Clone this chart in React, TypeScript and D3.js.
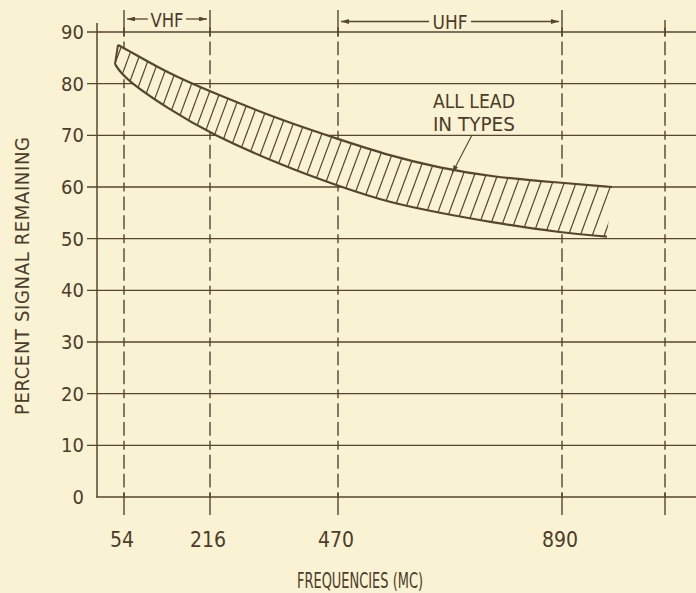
import React from "react";
import * as d3 from "d3";

// ---------- data ----------
const yTicks = [0, 10, 20, 30, 40, 50, 60, 70, 80, 90];
const xTickFreqs = [54, 216, 470, 890];
const gridFreqs = [54, 216, 470, 890, 1085];
const scaleFreqs = [0, 54, 216, 470, 890, 1085];

const upperBand: [number, number][] = [
  [42, 87.5], [54, 86.9], [141, 81.8], [216, 78.5], [355, 73], [470, 69.3],
  [568, 66], [661, 63.7], [755, 62], [890, 60.8], [985, 60],
];
const lowerBand: [number, number][] = [
  [36, 83.8], [54, 81], [141, 74.9], [216, 70.4], [355, 64.3], [470, 60.2],
  [568, 56.9], [661, 55], [755, 53.2], [890, 51.1], [975, 50.4],
];

const bandRanges = [
  { label: "VHF", from: 54, to: 216 },
  { label: "UHF", from: 470, to: 890 },
];
const annotationLines = ["ALL LEAD", "IN TYPES"];
const yTitle = "PERCENT SIGNAL REMAINING";
const xTitle = "FREQUENCIES (MC)";

// ---------- style ----------
const W = 696;
const H = 593;
const BG = "#f9f3d3";
const INK = "#56452f";
const TXT = "#4c3c29";
const FONT = "'Liberation Sans Narrow', 'DejaVu Sans Condensed', 'Liberation Sans', sans-serif";

export default function App() {
  const x = d3.scaleLinear().domain(scaleFreqs).range([97, 124, 210, 338, 562, 665]);
  const y = d3.scaleLinear().domain([0, 90]).range([497, 32]);

  const lineGen = d3
    .line<[number, number]>()
    .x((d) => x(d[0]))
    .y((d) => y(d[1]))
    .curve(d3.curveBasis);

  const upperPath = lineGen(upperBand) as string;
  const lowerPath = lineGen(lowerBand) as string;
  const lowerRev = lineGen([...lowerBand].reverse()) as string;
  const clipPath = `${upperPath}L${lowerRev.slice(1)}Z`;
  const leftEdge = `M${x(upperBand[0][0])},${y(upperBand[0][1])}L${x(lowerBand[0][0])},${y(lowerBand[0][1])}`;

  const upperAt = d3.scaleLinear().domain(upperBand.map((d) => d[0])).range(upperBand.map((d) => d[1])).clamp(true);
  const lowerAt = d3.scaleLinear().domain(lowerBand.map((d) => d[0])).range(lowerBand.map((d) => d[1])).clamp(true);

  // hatch lines
  const hatch: { x1: number; y1: number; x2: number; y2: number }[] = [];
  let hx = x(lowerBand[0][0]) - 14;
  const hxEnd = x(upperBand[upperBand.length - 1][0]) + 20;
  const hx0 = x(upperBand[0][0]);
  while (hx < hxEnd) {
    const f = x.invert(hx);
    const ym = y((upperAt(f) + lowerAt(f)) / 2);
    hatch.push({ x1: hx - 0.37 * 60, y1: ym + 60, x2: hx + 0.37 * 60, y2: ym - 60 });
    hx += 8.3 + (Math.max(0, hx - hx0) / 482) * 3.4;
  }

  // dashed vertical lines aligned to grid
  const P = y(0) - y(10);
  const tick = 9;
  const gap = 5;
  const dash = (P - tick - 3 * gap) / 2;
  const dashArray = `${tick},${gap},${dash},${gap},${dash},${gap}`;

  const yTop = y(90);
  const y0 = y(0);

  // annotation
  const annF = 648;
  const annV = 75.3;
  const arrowFrom = [721, 70];
  const arrowTo = [684, upperAt(684) - 0.6];

  return (
    <svg
      width={W}
      height={H}
      style={{ position: "absolute", left: 0, top: 0, background: BG }}
      fontFamily={FONT}
    >
      <defs>
        <clipPath id="bandClip">
          <path d={clipPath} />
        </clipPath>
        <marker
          id="ah"
          viewBox="0 0 10 6"
          refX={10}
          refY={3}
          markerWidth={8}
          markerHeight={4.8}
          markerUnits="userSpaceOnUse"
          orient="auto-start-reverse"
        >
          <path d="M0,0L10,3L0,6Z" fill={INK} />
        </marker>
      </defs>
      <rect x={0} y={0} width={W} height={H} fill={BG} />

      {/* horizontal grid */}
      {yTicks.map((v) => (
        <line
          key={"h" + v}
          x1={v === 0 ? 96 : 87}
          x2={W}
          y1={y(v)}
          y2={y(v)}
          stroke={INK}
          strokeWidth={1.4}
        />
      ))}
      {/* y axis */}
      <line x1={97} x2={97} y1={23} y2={y0} stroke={INK} strokeWidth={1.5} />

      {/* vertical dashed lines */}
      {gridFreqs.map((f, i) => (
        <g key={"v" + f}>
          <line
            x1={x(f)}
            x2={x(f)}
            y1={yTop - tick / 2}
            y2={y0}
            stroke={INK}
            strokeWidth={1.4}
            strokeDasharray={dashArray}
          />
          <line x1={x(f)} x2={x(f)} y1={i === gridFreqs.length - 1 ? 20 : 10} y2={yTop + tick / 2} stroke={INK} strokeWidth={1.4} />
          <line x1={x(f)} x2={x(f)} y1={y0 - tick / 2} y2={y0 + 18} stroke={INK} strokeWidth={1.4} />
        </g>
      ))}

      {/* band brackets */}
      {bandRanges.map((b) => {
        const xa = x(b.from);
        const xb = x(b.to);
        const cx = (xa + xb) / 2;
        const half = b.label === "VHF" ? 19 : 21;
        const ly = b.label === "VHF" ? 19 : 21.5;
        return (
          <g key={b.label}>
            <line x1={cx - half} x2={xa + 3} y1={ly} y2={ly} stroke={INK} strokeWidth={1.3} markerEnd="url(#ah)" />
            <line x1={cx + half} x2={xb - 3} y1={ly} y2={ly} stroke={INK} strokeWidth={1.3} markerEnd="url(#ah)" />
            <text
              x={cx}
              y={ly + 7.5}
              textAnchor="middle"
              fontSize={20}
              fill={TXT}
              textLength={b.label === "VHF" ? 33 : 35}
              lengthAdjust="spacingAndGlyphs"
            >
              {b.label}
            </text>
          </g>
        );
      })}

      {/* band hatch */}
      <g clipPath="url(#bandClip)">
        <path d={clipPath} fill={BG} />
        {hatch.map((h, i) => (
          <line key={i} x1={h.x1} y1={h.y1} x2={h.x2} y2={h.y2} stroke={INK} strokeWidth={1.2} />
        ))}
      </g>
      <path d={upperPath} fill="none" stroke={INK} strokeWidth={2.2} />
      <path d={lowerPath} fill="none" stroke={INK} strokeWidth={2.2} />
      <path d={leftEdge} fill="none" stroke={INK} strokeWidth={2} />

      {/* annotation */}
      {annotationLines.map((t, i) => (
        <text
          key={t}
          x={x(annF)}
          y={y(annV) + i * 23}
          fontSize={20}
          fill={TXT}
          textLength={82}
          lengthAdjust="spacingAndGlyphs"
        >
          {t}
        </text>
      ))}
      <line
        x1={x(arrowFrom[0])}
        y1={y(arrowFrom[1])}
        x2={x(arrowTo[0])}
        y2={y(arrowTo[1])}
        stroke={INK}
        strokeWidth={1.1}
        markerEnd="url(#ah)"
      />

      {/* y tick labels */}
      {yTicks.map((v) => (
        <text key={"yl" + v} x={84} y={y(v) + 7} textAnchor="end" fontSize={20} fill={TXT}>
          {v}
        </text>
      ))}
      {/* x tick labels */}
      {xTickFreqs.map((f) => (
        <text key={"xl" + f} x={x(f) - 2} y={547} textAnchor="middle" fontSize={21} fill={TXT}>
          {f}
        </text>
      ))}

      {/* titles */}
      <text
        transform={`translate(29,276) rotate(-90)`}
        textAnchor="middle"
        fontSize={20}
        fill={TXT}
        textLength={278}
        lengthAdjust="spacing"
      >
        {yTitle}
      </text>
      <text
        x={360}
        y={588}
        textAnchor="middle"
        fontSize={21}
        fill={TXT}
        textLength={126}
        lengthAdjust="spacingAndGlyphs"
      >
        {xTitle}
      </text>
    </svg>
  );
}
